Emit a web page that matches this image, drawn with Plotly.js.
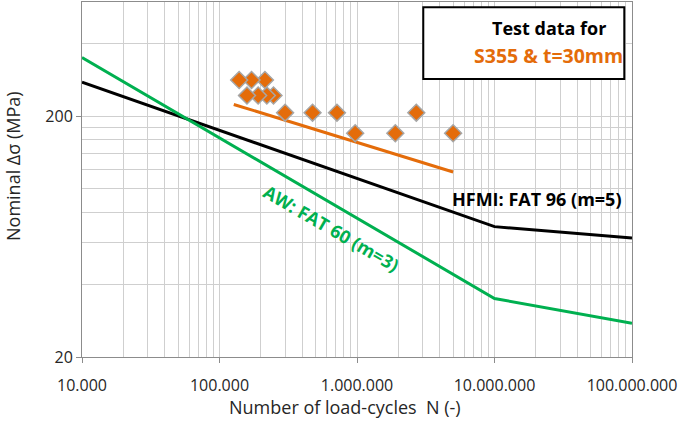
<!DOCTYPE html>
<html>
<head>
<meta charset="utf-8">
<script src="https://cdn.plot.ly/plotly-3.0.1.min.js"></script>
<style>
  html, body { margin: 0; padding: 0; background: #fff; }
  #myDiv { width: 685px; height: 421px; }
</style>
</head>
<body>
<div id="myDiv"></div>
<script>
// S-N curves (N, nominal stress range in MPa)
var hfmiCycles = [1e4, 1e7, 1e8];
var hfmiStress = [277, 69.6, 62.4];

var awCycles = [1e4, 1e7, 1e8];
var awStress = [351, 35, 27.6];

// regression line through the test results
var fitCycles = [1.27e5, 5.0e6];
var fitStress = [224, 117.4];

// test data S355, t=30mm (listed right to left, like the original overlap)
var testCycles = [5.0e6, 2.7e6, 1.9e6, 9.7e5, 7.15e5, 4.75e5, 3.0e5,
                  2.47e5, 2.21e5, 1.91e5, 1.585e5,
                  2.14e5, 1.71e5, 1.39e5];
var testStress = [170, 207, 170, 170, 207, 207, 207,
                  244, 244, 244, 244,
                  283, 283, 283];

var xTicks = [1e4, 1e5, 1e6, 1e7, 1e8];
var xTickText = ["10.000", "100.000", "1.000.000", "10.000.000", "100.000.000"];
var yTicks = [20, 200];
var yTickText = ["20", "200"];

var orange = "#e46c0a";
var green = "#00b050";
var gridCol = "#cfcfcf";

// minor grid: every integer multiple inside each decade
var xMinor = [];
for (var d = 1e4; d < 1e8; d *= 10) {
  for (var k = 2; k <= 9; k++) xMinor.push(d * k);
}
var yMinor = [];
for (var k = 2; k <= 9; k++) yMinor.push(20 * k);
yMinor.push(400, 600);

var data = [
  {
    x: hfmiCycles, y: hfmiStress, type: "scatter", mode: "lines",
    line: { color: "#000000", width: 3 }, hoverinfo: "x+y"
  },
  {
    x: awCycles, y: awStress, type: "scatter", mode: "lines",
    line: { color: green, width: 3 }, hoverinfo: "x+y"
  },
  {
    x: fitCycles, y: fitStress, type: "scatter", mode: "lines",
    line: { color: orange, width: 3 }, hoverinfo: "x+y"
  },
  {
    x: testCycles, y: testStress, type: "scatter", mode: "markers",
    marker: { symbol: "diamond", size: 13, color: orange,
              line: { color: "#a6a6a6", width: 1.5 } },
    hoverinfo: "x+y"
  }
];

var fontFam = "Open Sans, sans-serif";

var layout = {
  width: 685,
  height: 421,
  margin: { l: 82, r: 53, t: 2, b: 64 },
  paper_bgcolor: "#ffffff",
  plot_bgcolor: "#ffffff",
  showlegend: false,
  font: { family: fontFam, size: 16, color: "#262626" },
  xaxis: {
    type: "log",
    range: [4, 8],
    tickmode: "array",
    tickvals: xTicks,
    ticktext: xTickText,
    ticks: "outside",
    ticklen: 5,
    tickcolor: "#8c8c8c",
    ticklabelstandoff: 9,
    showgrid: true,
    gridcolor: gridCol,
    gridwidth: 1,
    minor: { tickmode: "array", tickvals: xMinor, showgrid: true, gridcolor: gridCol, gridwidth: 1, ticks: "" },
    showline: true,
    linecolor: "#8c8c8c",
    linewidth: 1,
    mirror: true,
    zeroline: false,
    tickfont: { family: fontFam, size: 16, color: "#262626" }
  },
  yaxis: {
    type: "log",
    range: [Math.log10(20), Math.log10(20) + 355 / 240.7],
    tickmode: "array",
    tickvals: yTicks,
    ticktext: yTickText,
    ticks: "outside",
    ticklen: 5,
    tickcolor: "#8c8c8c",
    showgrid: true,
    gridcolor: gridCol,
    gridwidth: 1,
    minor: { tickmode: "array", tickvals: yMinor, showgrid: true, gridcolor: gridCol, gridwidth: 1, ticks: "" },
    showline: true,
    linecolor: "#8c8c8c",
    linewidth: 1,
    mirror: true,
    zeroline: false,
    tickfont: { family: fontFam, size: 16, color: "#262626" }
  },
  shapes: [
    {
      type: "rect", xref: "paper", yref: "paper",
      x0: 0.6205, x1: 0.986, y0: 0.783, y1: 0.985,
      line: { color: "#000000", width: 2 }, fillcolor: "#ffffff", layer: "above"
    }
  ],
  annotations: [
    {
      xref: "paper", yref: "paper", x: 0.8487, y: 0.9268,
      text: "<b>Test data for</b>", showarrow: false,
      xanchor: "center", yanchor: "middle",
      font: { family: fontFam, size: 18, color: "#000000" }
    },
    {
      xref: "paper", yref: "paper", x: 0.8487, y: 0.8507,
      text: "<b>S355 & t=30mm</b>", showarrow: false,
      xanchor: "center", yanchor: "middle",
      font: { family: fontFam, size: 19.5, color: orange }
    },
    {
      x: Math.log10(2.04e7), y: Math.log10(90.4),
      text: "<b>HFMI: FAT 96 (m=5)</b>", showarrow: false,
      xanchor: "center", yanchor: "middle",
      font: { family: fontFam, size: 18, color: "#000000" }
    },
    {
      x: Math.log10(6.47e5), y: Math.log10(68.7),
      text: "<b>AW: FAT 60 (m=3)</b>", showarrow: false,
      textangle: 30,
      xanchor: "center", yanchor: "middle",
      font: { family: fontFam, size: 18, color: green }
    },
    {
      xref: "paper", yref: "paper", x: -0.1255, y: 0.538,
      text: "Nominal \u0394\u03c3 (MPa)", showarrow: false,
      textangle: -90,
      xanchor: "center", yanchor: "middle",
      font: { family: fontFam, size: 18, color: "#262626" }
    },
    {
      xref: "paper", yref: "paper", x: 0.478, y: -0.14,
      text: "Number of load-cycles  N (-)", showarrow: false,
      xanchor: "center", yanchor: "middle",
      font: { family: fontFam, size: 18, color: "#262626" }
    }
  ]
};

Plotly.newPlot("myDiv", data, layout, { displayModeBar: false, staticPlot: true });
</script>
</body>
</html>
